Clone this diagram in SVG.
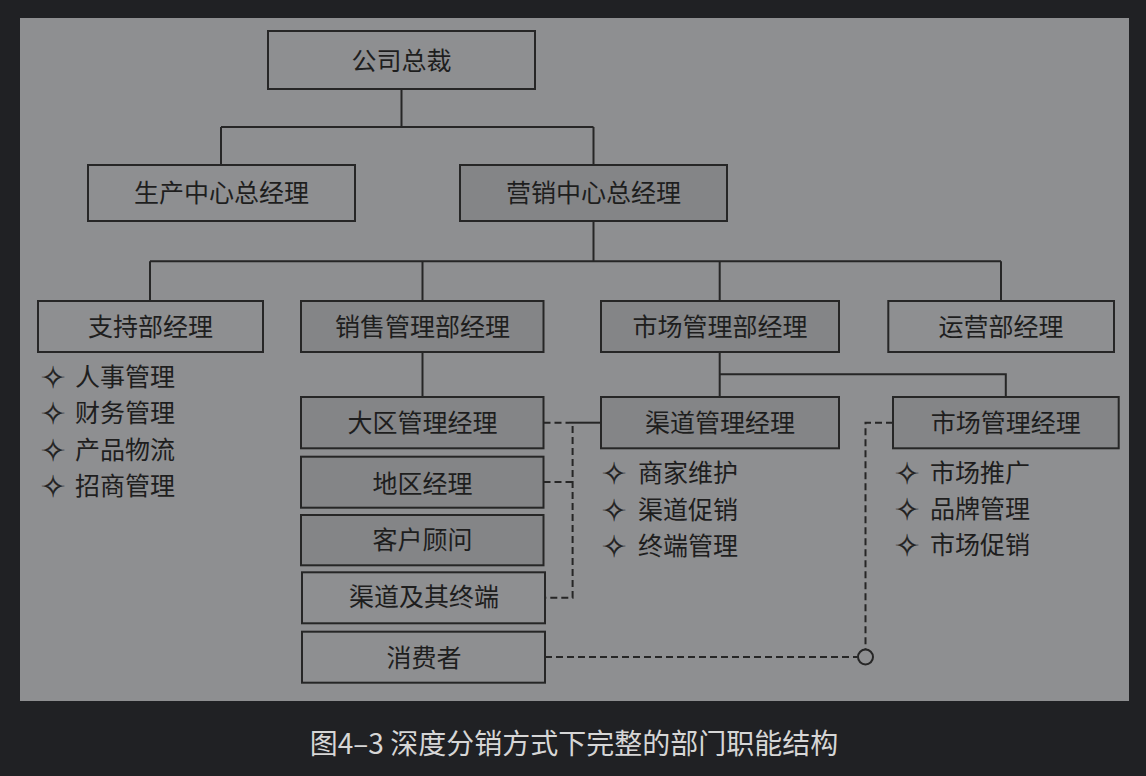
<svg xmlns="http://www.w3.org/2000/svg" width="1146" height="776" viewBox="0 0 1146 776">
<style>
.box{fill:#8e8f91;stroke:#262626;stroke-width:2}
.dk{fill:#848587}
.t{font-family:"Noto Sans CJK SC","Noto Sans",sans-serif;font-size:25px;fill:#1e1e1e;text-anchor:middle}
.b{font-family:"Noto Sans CJK SC","Noto Sans",sans-serif;font-size:25px;fill:#1e1e1e}
.sym{font-family:"DejaVu Sans",sans-serif;font-size:30px;fill:#1e1e1e;text-anchor:middle;stroke:#1e1e1e;stroke-width:0.4}
.ln{fill:none;stroke:#262626;stroke-width:2}
.dash{fill:none;stroke:#262626;stroke-width:2;stroke-dasharray:7 4}
.cap{font-family:"Noto Sans CJK SC","Noto Sans",sans-serif;font-size:28px;fill:#d6d6d6;text-anchor:middle}
</style>
<rect x="0" y="0" width="1146" height="776" fill="#202124"/>
<rect x="20" y="18" width="1109" height="683" fill="#8e8f91"/>
<g id="connectors">
<path class="ln" d="M401.5 89V127M221 127H593.5M221 127V165M593.5 127V165"/>
<path class="ln" d="M593.5 221V261.3M150 261.3H1001M150 261.3V301M422.5 261.3V301M719.7 261.3V301M1001 261.3V301"/>
<path class="ln" d="M422.5 352V397"/>
<path class="ln" d="M719.7 352V397M719.7 374.3H1005.8V397"/>
<path class="ln" d="M569 422.7H601"/>
<path class="dash" d="M543.5 422.7H569"/>
<path class="dash" d="M572.6 426V597.7H545"/>
<path class="dash" d="M543.5 482H572.6"/>
<path class="dash" d="M893 422.7H865.5V649.5"/>
<path class="dash" d="M545 657H857.5"/>
<circle cx="865.5" cy="657" r="7.5" fill="none" stroke="#262626" stroke-width="2"/>
</g>
<g id="n-ceo"><rect class="box" x="268" y="31" width="267" height="58"/><text class="t" x="401.5" y="69.5">公司总裁</text></g>
<g id="n-prod"><rect class="box" x="88" y="165" width="267" height="56"/><text class="t" x="221.5" y="201.5">生产中心总经理</text></g>
<g id="n-mkt"><rect class="box dk" x="460" y="165" width="267" height="56"/><text class="t" x="593.5" y="201.5">营销中心总经理</text></g>
<g id="n-support"><rect class="box" x="38" y="301" width="225" height="51"/><text class="t" x="150.5" y="335.5">支持部经理</text></g>
<g id="n-sales"><rect class="box dk" x="301" y="301" width="242.5" height="51"/><text class="t" x="422.5" y="335.5">销售管理部经理</text></g>
<g id="n-market"><rect class="box dk" x="601" y="301" width="238" height="51"/><text class="t" x="720" y="335.5">市场管理部经理</text></g>
<g id="n-ops"><rect class="box" x="888.3" y="301" width="225.7" height="51"/><text class="t" x="1001" y="335.5">运营部经理</text></g>
<g id="n-region"><rect class="box dk" x="301" y="397" width="242.5" height="51.3"/><text class="t" x="422.5" y="432">大区管理经理</text></g>
<g id="n-area"><rect class="box dk" x="301" y="456.7" width="242.5" height="51"/><text class="t" x="422.5" y="492.5">地区经理</text></g>
<g id="n-client"><rect class="box dk" x="301" y="515" width="242.5" height="50.3"/><text class="t" x="422.5" y="549">客户顾问</text></g>
<g id="n-channel-end"><rect class="box" x="302" y="572.3" width="243" height="51"/><text class="t" x="424" y="606">渠道及其终端</text></g>
<g id="n-consumer"><rect class="box" x="302" y="631.7" width="243" height="51"/><text class="t" x="424" y="666.5">消费者</text></g>
<g id="n-channel"><rect class="box dk" x="601" y="397" width="238" height="51.3"/><text class="t" x="720" y="432">渠道管理经理</text></g>
<g id="n-mktmgr"><rect class="box dk" x="893" y="397" width="225.7" height="51.3"/><text class="t" x="1005.8" y="432">市场管理经理</text></g>
<g id="list-support">
<text class="sym" x="53" y="388">✧</text><text class="b" x="75" y="386">人事管理</text>
<text class="sym" x="53" y="424">✧</text><text class="b" x="75" y="422">财务管理</text>
<text class="sym" x="53" y="461">✧</text><text class="b" x="75" y="459">产品物流</text>
<text class="sym" x="53" y="497">✧</text><text class="b" x="75" y="495">招商管理</text>
</g>
<g id="list-channel">
<text class="sym" x="614" y="484">✧</text><text class="b" x="638" y="482">商家维护</text>
<text class="sym" x="614" y="521">✧</text><text class="b" x="638" y="519">渠道促销</text>
<text class="sym" x="614" y="557">✧</text><text class="b" x="638" y="555">终端管理</text>
</g>
<g id="list-mkt">
<text class="sym" x="907" y="484">✧</text><text class="b" x="930" y="482">市场推广</text>
<text class="sym" x="907" y="520">✧</text><text class="b" x="930" y="518">品牌管理</text>
<text class="sym" x="907" y="556">✧</text><text class="b" x="930" y="554">市场促销</text>
</g>
<text class="cap" x="574" y="754">图4–3 深度分销方式下完整的部门职能结构</text>
</svg>
